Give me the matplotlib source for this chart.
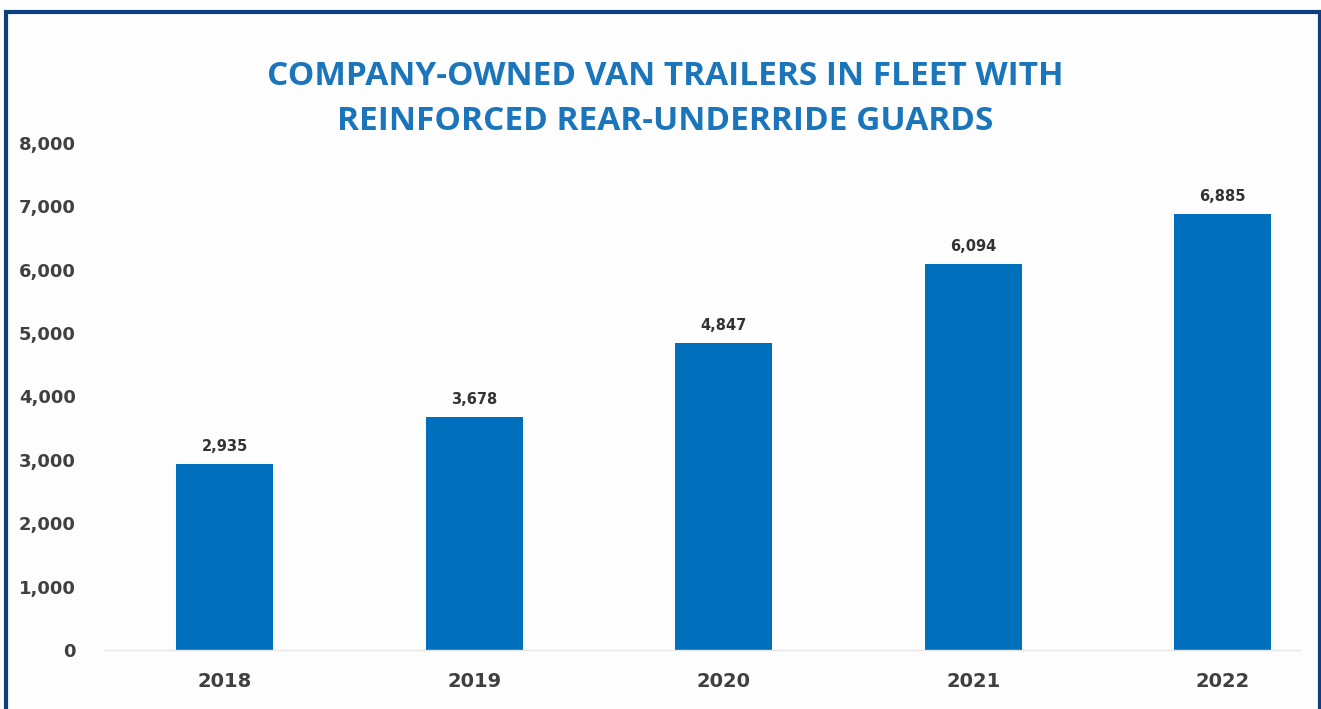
import matplotlib.pyplot as plt
from matplotlib.patches import Rectangle
from matplotlib.ticker import FuncFormatter

title_font = "Open Sans"
label_font = "DejaVu Sans"
bar_color = "#0070bd"
title_color = "#1b75bb"
frame_color = "#0b3f7e"
text_color = "#404040"

years = ["2018", "2019", "2020", "2021", "2022"]
trailers = [2935, 3678, 4847, 6094, 6885]

fig = plt.figure(figsize=(13.21, 7.09), dpi=100)
fig.patch.set_facecolor("#fdfdfd")

# dark blue frame round the panel
fig.add_artist(Rectangle((6 / 1321, -0.05), 1314 / 1321, 1.05 - 12 / 709,
                         transform=fig.transFigure, fill=False,
                         edgecolor=frame_color, linewidth=3))

ax = fig.add_axes([105 / 1321, 59 / 709, 1195 / 1321, 507 / 709])
ax.set_facecolor("none")

x = range(len(years))
bars = ax.bar(x, trailers, width=0.39, color=bar_color, zorder=2)

for xi, v in zip(x, trailers):
    ax.annotate(f"{v:,}", (xi, v), xytext=(0, 7), textcoords="offset points",
                ha="center", va="bottom", fontname=label_font, fontweight="bold",
                fontsize=10.5, color="#333333")

ax.set_xlim(-0.48, 4.31)
ax.set_ylim(0, 8000)
ax.set_yticks(range(0, 8001, 1000))
ax.yaxis.set_major_formatter(FuncFormatter(lambda v, p: f"{int(v):,}"))
ax.set_xticks(list(x))
ax.set_xticklabels(years)

for lab in ax.get_yticklabels():
    lab.set_fontsize(13)
for lab in ax.get_xticklabels():
    lab.set_fontsize(14)
for lab in ax.get_yticklabels() + ax.get_xticklabels():
    lab.set_fontname(label_font)
    lab.set_fontweight("bold")
    lab.set_color(text_color)

ax.tick_params(axis="y", length=0, pad=21)
ax.tick_params(axis="x", length=0, pad=16)

for pos in ["right", "top", "left"]:
    ax.spines[pos].set_visible(False)
ax.spines["bottom"].set_color("#e6e6e6")
ax.spines["bottom"].set_linewidth(1)

fig.text(665 / 1321, 1 - 99 / 709,
         "COMPANY-OWNED VAN TRAILERS IN FLEET WITH\nREINFORCED REAR-UNDERRIDE GUARDS",
         ha="center", va="center", fontname=title_font, fontweight="bold",
         fontsize=24, color=title_color, linespacing=1.47)

plt.savefig("out.png", dpi=100, facecolor=fig.get_facecolor())
